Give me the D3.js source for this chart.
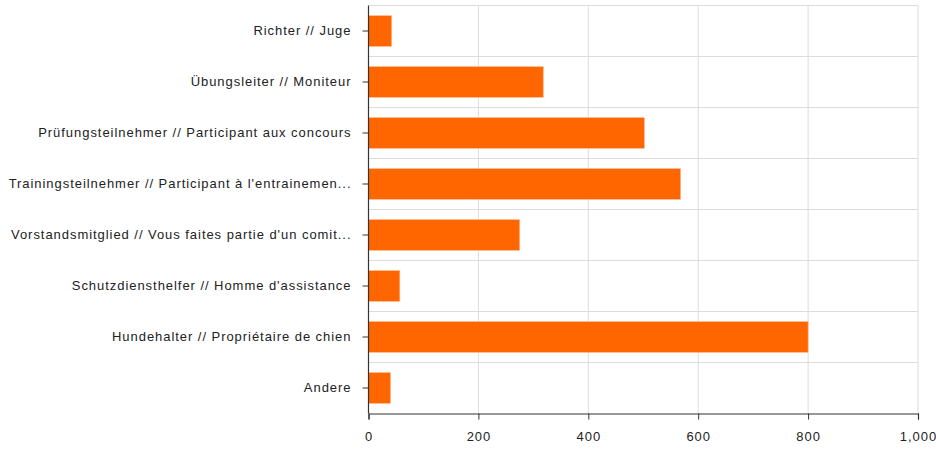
<!DOCTYPE html>
<html><head><meta charset="utf-8">
<script src="https://cdn.jsdelivr.net/npm/d3@7"></script>
<style>body{margin:0;background:#fff}svg{display:block}</style>
</head><body>
<svg id="c" width="936" height="450"></svg>
<script>
const categories = [
  "Richter // Juge",
  "Übungsleiter // Moniteur",
  "Prüfungsteilnehmer // Participant aux concours",
  "Trainingsteilnehmer // Participant à l'entrainemen...",
  "Vorstandsmitglied // Vous faites partie d'un comit...",
  "Schutzdiensthelfer // Homme d'assistance",
  "Hundehalter // Propriétaire de chien",
  "Andere"
];
const values = [42, 318, 502, 568, 275, 57, 800, 40];
const xTicks = [0, 200, 400, 600, 800, 1000];

const svg = d3.select("#c");
const m = {left: 368.5, right: 918, top: 5.5, bottom: 413.5};
const x = d3.scaleLinear().domain([0, 1000]).range([m.left, m.right]);
const y = d3.scaleBand().domain(categories).range([m.top, m.bottom]).paddingInner(0.4).paddingOuter(0.2);
const step = y.step();

const font = "Liberation Sans, Arial, sans-serif";
// grid
const g = svg.append("g");
g.selectAll("line.v").data(xTicks.slice(1)).join("line")
  .attr("x1", d => x(d)).attr("x2", d => x(d))
  .attr("y1", m.top).attr("y2", m.bottom)
  .attr("stroke", "#dcdcdc").attr("stroke-width", 1);
g.selectAll("line.h").data(categories).join("line")
  .attr("x1", m.left).attr("x2", m.right)
  .attr("y1", (d) => y(d) - step * 0.2).attr("y2", (d) => y(d) - step * 0.2)
  .attr("stroke", "#dcdcdc").attr("stroke-width", 1);

// bars
svg.append("g").selectAll("rect").data(values).join("rect")
  .attr("x", x(0))
  .attr("y", (d, i) => y(categories[i]))
  .attr("width", d => x(d) - x(0))
  .attr("height", y.bandwidth())
  .attr("fill", "#ff6600")
  .attr("stroke", "#ffb27f").attr("stroke-width", 0.6);

// axes
const ax = svg.append("g").attr("transform", `translate(0,${m.bottom})`)
  .call(d3.axisBottom(x).tickValues(xTicks).tickFormat(d3.format(",")).tickSizeOuter(0).tickSize(6).tickPadding(12));
const ay = svg.append("g").attr("transform", `translate(${m.left},0)`)
  .call(d3.axisLeft(y).tickSizeOuter(0).tickSize(6).tickPadding(12));
[ax, ay].forEach(a => {
  a.select(".domain").attr("stroke", "#333").attr("stroke-width", 1.2);
  a.selectAll(".tick line").attr("stroke", "#333");
  a.selectAll("text").attr("font-family", font).attr("font-size", 13).attr("fill", "#222")
    .attr("letter-spacing", "0.95px");
});
ay.selectAll("text").attr("dx", "0.95px");
ay.select(".domain").attr("d", `M0,${m.top}V${m.bottom}`);
</script>
</body></html>
